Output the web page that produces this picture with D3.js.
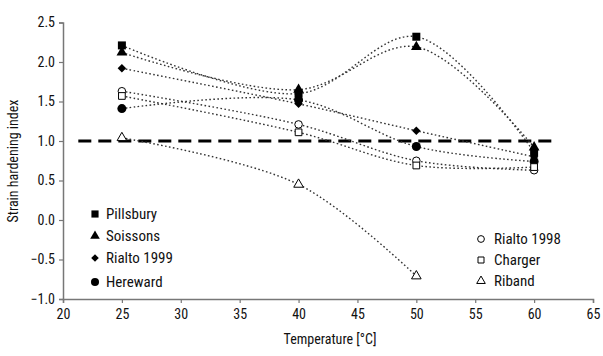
<!DOCTYPE html>
<html><head><meta charset="utf-8">
<script src="https://cdn.jsdelivr.net/npm/d3@7"></script>
<style>
body{margin:0;background:#fff;}
text{font-family:"Liberation Sans Narrow","Roboto Condensed","Arial Narrow","Liberation Sans",sans-serif;fill:#111;}
</style></head><body>
<svg id="c" width="603" height="356"></svg>
<script>
const temps = [25, 40, 50, 60];
const seriesNames = ["Pillsbury","Soissons","Rialto 1999","Hereward","Rialto 1998","Charger","Riband"];
const pillsbury  = [2.21, 1.60, 2.32, 0.86];
const soissons   = [2.12, 1.65, 2.19, 0.92];
const rialto1999 = [1.92, 1.47, 1.13, 0.80];
const hereward   = [1.41, 1.52, 0.93, 0.74];
const rialto1998 = [1.63, 1.21, 0.75, 0.63];
const charger    = [1.57, 1.11, 0.69, 0.67];
const riband     = [1.04, 0.45, -0.71];
const xTicks = [20,25,30,35,40,45,50,55,60,65];
const yTicks = [-1.0,-0.5,0.0,0.5,1.0,1.5,2.0,2.5];
const thresholdLine = {value:1.0, from:21.3, to:61.5};

const svg = d3.select("#c");
const x = d3.scaleLinear().domain([20,65]).range([63,593]);
const y = d3.scaleLinear().domain([-1,2.5]).range([299,22.5]);

// axes
const gx = svg.append("g").attr("transform","translate(0,299)")
  .call(d3.axisBottom(x).tickValues(xTicks).tickSize(4).tickFormat(d3.format("d")));
const gy = svg.append("g").attr("transform","translate(63,0)")
  .call(d3.axisLeft(y).tickValues(yTicks).tickSize(4).tickFormat(d3.format(".1f")));
[gx,gy].forEach(g=>{
  g.select(".domain").attr("stroke","#777").attr("stroke-width",1.5);
  g.selectAll(".tick line").attr("stroke","#777").attr("stroke-width",1.2);
  g.selectAll(".tick text").style("font-size","14px").attr("fill","#111");
});
gx.selectAll(".tick text").attr("dy","0.9em");
gy.selectAll(".tick text").attr("dx","-1px");

// threshold line
svg.append("line")
  .attr("x1",x(thresholdLine.from)).attr("x2",x(thresholdLine.to))
  .attr("y1",y(thresholdLine.value)).attr("y2",y(thresholdLine.value))
  .attr("stroke","#000").attr("stroke-width",3).attr("stroke-dasharray","13,7");

const allData = [pillsbury,soissons,rialto1999,hereward,rialto1998,charger,riband];
const line = d3.line().x((d,i)=>x(temps[i])).y(d=>y(d)).curve(d3.curveCatmullRom.alpha(0.5));
allData.forEach(vals=>{
  svg.append("path").attr("d",line(vals)).attr("fill","none")
    .attr("stroke","#333").attr("stroke-width",1.4).attr("stroke-dasharray","1.6,2.4");
});

const symbols = [
  {type:d3.symbolSquare,size:64,fill:"#000",rot:0},
  {type:d3.symbolTriangle,size:50,fill:"#000",rot:0},
  {type:d3.symbolSquare,size:36,fill:"#000",rot:45},
  {type:d3.symbolCircle,size:64,fill:"#000",rot:0},
  {type:d3.symbolCircle,size:45,fill:"#fff",rot:0},
  {type:d3.symbolSquare,size:45,fill:"#fff",rot:0},
  {type:d3.symbolTriangle,size:40,fill:"#fff",rot:0}
];
allData.forEach((vals,s)=>{
  const sym = symbols[s];
  svg.append("g").selectAll("path").data(vals).join("path")
    .attr("transform",(d,i)=>`translate(${x(temps[i])},${y(d)}) rotate(${sym.rot})`)
    .attr("d",d3.symbol().type(sym.type).size(sym.size))
    .attr("fill",sym.fill).attr("stroke","#000").attr("stroke-width",sym.fill==="#fff"?1:0);
});

// legends
const leftRows = [214,236,258,282];
const rightRows = [239,260,281];
seriesNames.forEach((name,s)=>{
  const left = s<4;
  const yy = left ? leftRows[s] : rightRows[s-4];
  const mx = left ? 95 : 481;
  const sym = symbols[s];
  svg.append("path").attr("transform",`translate(${mx},${yy}) rotate(${sym.rot})`)
    .attr("d",d3.symbol().type(sym.type).size(sym.size*0.8))
    .attr("fill",sym.fill).attr("stroke","#000").attr("stroke-width",sym.fill==="#fff"?1:0);
  svg.append("text").attr("x",left?106:494).attr("y",yy).attr("dy","0.35em")
    .style("font-size","15px").text(name);
});

// titles
svg.append("text").attr("x",330).attr("y",344).attr("text-anchor","middle")
  .style("font-size","14px").text("Temperature [°C]");
svg.append("text").attr("transform","translate(18,161) rotate(-90)").attr("text-anchor","middle")
  .style("font-size","14px").text("Strain hardening index");
</script>
</body></html>
